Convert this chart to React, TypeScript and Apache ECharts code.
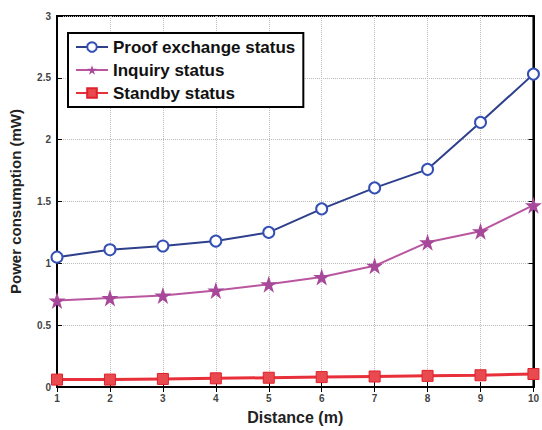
import React, { useEffect, useRef } from "react";
import * as echarts from "echarts";

const distances = [1, 2, 3, 4, 5, 6, 7, 8, 9, 10];
const proofExchange = [1.05, 1.11, 1.14, 1.18, 1.25, 1.44, 1.61, 1.76, 2.14, 2.53];
const inquiry = [0.7, 0.72, 0.74, 0.78, 0.83, 0.89, 0.98, 1.17, 1.26, 1.47];
const standby = [0.06, 0.06, 0.065, 0.07, 0.075, 0.08, 0.085, 0.09, 0.095, 0.105];
const yTicks = [0, 0.5, 1, 1.5, 2, 2.5, 3];

const STAR = "path://M12,0 L14.9,8.8 L24,8.8 L16.6,14.2 L19.4,23 L12,17.6 L4.6,23 L7.4,14.2 L0,8.8 L9.1,8.8 Z";

export default function App() {
  const ref = useRef<HTMLDivElement>(null);
  useEffect(() => {
    const chart = echarts.init(ref.current!, null, { renderer: "svg" });
    const pair = (ys: number[]) => distances.map((d, i) => [d, ys[i]]);
    const labelFmt = (v: number) => (yTicks.includes(v) ? String(v) : "");
    chart.setOption({
      animation: false,
      backgroundColor: "#fff",
      textStyle: { fontFamily: "Liberation Sans, Arial, sans-serif" },
      grid: { left: 57, right: 7, top: 16, bottom: 35, show: true, borderColor: "#000", borderWidth: 2 },
      legend: {
        orient: "vertical",
        left: 68,
        top: 33,
        padding: [5, 8, 5, 7],
        itemGap: 5,
        itemWidth: 32,
        itemHeight: 12,
        borderColor: "#000",
        borderWidth: 2,
        backgroundColor: "#fff",
        textStyle: {
          fontSize: 17,
          lineHeight: 18,
          fontWeight: "bold",
          color: "#111",
          fontFamily: "Liberation Sans, Arial, sans-serif",
        },
        data: ["Proof exchange status", "Inquiry status", "Standby status"],
      },
      xAxis: [
        {
          type: "value",
          min: 1,
          max: 10,
          interval: 1,
          name: "Distance (m)",
          nameLocation: "middle",
          nameGap: 22,
          nameTextStyle: { fontSize: 16, fontWeight: "bold", color: "#222" },
          axisLine: { lineStyle: { color: "#000", width: 2 } },
          axisTick: { inside: true, length: 5, lineStyle: { color: "#000" } },
          axisLabel: { fontSize: 10, fontWeight: "bold", color: "#444", margin: 6 },
          splitLine: { show: true, lineStyle: { color: "#bbb", type: "dotted" } },
        },
        {
          type: "value",
          position: "top",
          min: 1,
          max: 10,
          interval: 1,
          axisLine: { lineStyle: { color: "#000", width: 2 } },
          axisTick: { inside: true, length: 5, lineStyle: { color: "#000" } },
          axisLabel: { show: false },
          splitLine: { show: false },
        },
      ],
      yAxis: [
        {
          type: "value",
          min: 0,
          max: 3,
          interval: 0.5,
          name: "Power consumption (mW)",
          nameLocation: "middle",
          nameGap: 34,
          nameTextStyle: { fontSize: 15, fontWeight: "bold", color: "#222" },
          axisLine: { lineStyle: { color: "#000", width: 2 } },
          axisTick: { inside: true, length: 5, lineStyle: { color: "#000" } },
          axisLabel: { fontSize: 10, fontWeight: "bold", color: "#444", margin: 6, formatter: labelFmt },
          splitLine: { show: true, lineStyle: { color: "#bbb", type: "dotted" } },
        },
        {
          type: "value",
          position: "right",
          min: 0,
          max: 3,
          interval: 0.5,
          axisLine: { lineStyle: { color: "#000", width: 2 } },
          axisTick: { inside: true, length: 5, lineStyle: { color: "#000" } },
          axisLabel: { show: false },
          splitLine: { show: false },
        },
      ],
      series: [
        {
          name: "Proof exchange status",
          type: "line",
          data: pair(proofExchange),
          symbol: "emptyCircle",
          symbolSize: 11,
          lineStyle: { color: "#2e3f8c", width: 2 },
          itemStyle: { color: "#3550b5", borderWidth: 2 },
        },
        {
          name: "Inquiry status",
          type: "line",
          data: pair(inquiry),
          symbol: STAR,
          symbolSize: 17,
          lineStyle: { color: "#b9569f", width: 2 },
          itemStyle: { color: "#a8489a" },
        },
        {
          name: "Standby status",
          type: "line",
          data: pair(standby),
          symbol: "rect",
          symbolSize: 11,
          lineStyle: { color: "#e8303a", width: 3 },
          itemStyle: { color: "#e84a50", borderColor: "#e0202a", borderWidth: 1 },
        },
      ],
    });
    return () => chart.dispose();
  }, []);
  return <div ref={ref} style={{ width: 542, height: 430, position: "absolute", left: 0, top: 0 }} />;
}
